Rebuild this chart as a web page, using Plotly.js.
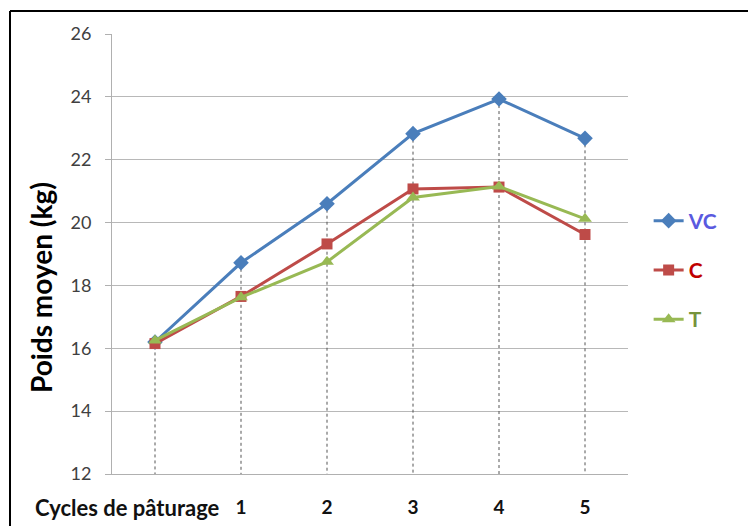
<!DOCTYPE html>
<html>
<head>
<meta charset="utf-8">
<script src="https://cdn.plot.ly/plotly-3.0.1.min.js"></script>
<style>html,body{margin:0;padding:0;background:#fff;}#chart{width:748px;height:526px;}</style>
</head>
<body>
<div id="chart"></div>
<script>
const cycles = [0, 1, 2, 3, 4, 5];
const tickLabels = ["1", "2", "3", "4", "5"];
const tickPositions = [1, 2, 3, 4, 5];
const vc = [16.2, 18.72, 20.6, 22.83, 23.93, 22.68];
const c = [16.15, 17.65, 19.32, 21.07, 21.13, 19.62];
const t = [16.25, 17.62, 18.75, 20.8, 21.15, 20.12];
const yMin = 12, yMax = 26;

// drop lines from highest point to axis
const dropX = [], dropY = [];
cycles.forEach((x, i) => {
  const top = Math.max(vc[i], c[i], t[i]);
  dropX.push(x, x, null);
  dropY.push(top, yMin, null);
});

const font = "Lato, 'Open Sans', sans-serif";
const traces = [
  {x: dropX, y: dropY, mode: 'lines', line: {color: '#555', width: 1, dash: 'dot'},
   showlegend: false, hoverinfo: 'skip'},
  {x: cycles, y: vc, name: '<span style="color:#5a5adf">VC</span>', legendgroup: 'a',
   mode: 'lines+markers', line: {color: '#4a7ebb', width: 3},
   marker: {symbol: 'diamond', size: 12, color: '#4a7ebb'}},
  {x: cycles, y: c, name: '<span style="color:#c00000">C</span>', legendgroup: 'b',
   mode: 'lines+markers', line: {color: '#be4b48', width: 3},
   marker: {symbol: 'square', size: 11, color: '#be4b48'}},
  {x: cycles, y: t, name: '<span style="color:#77933c">T</span>', legendgroup: 'c',
   mode: 'lines+markers', line: {color: '#98b954', width: 3},
   marker: {symbol: 'triangle-up', size: 12, color: '#98b954'}}
];

const layout = {
  width: 748, height: 526,
  margin: {l: 112, r: 120, t: 34, b: 52},
  paper_bgcolor: '#fff', plot_bgcolor: '#fff',
  font: {family: font, color: '#404040'},
  xaxis: {
    range: [-0.5, 5.5], tickvals: tickPositions, ticktext: tickLabels,
    showgrid: false, zeroline: false, showline: true, linecolor: '#b0b0b0', linewidth: 1,
    ticks: '', ticklabelstandoff: 16,
    tickfont: {family: font, size: 19, color: '#111', weight: 'bold'}
  },
  yaxis: {
    range: [yMin, yMax], dtick: 2, tick0: 12,
    showgrid: true, gridcolor: '#b8b8b8', gridwidth: 1, zeroline: false,
    showline: true, linecolor: '#b0b0b0', linewidth: 1,
    ticks: 'outside', ticklen: 6, tickcolor: '#b0b0b0', ticklabelstandoff: 10,
    tickfont: {family: font, size: 18, color: '#404040'}
  },
  showlegend: true,
  legend: {
    x: 1.04, xanchor: 'left', y: (474 - 270) / 440, yanchor: 'middle',
    font: {family: font, size: 21, weight: 'bold'}, tracegroupgap: 19, bgcolor: 'rgba(0,0,0,0)'
  },
  annotations: [
    {text: 'Poids moyen (kg)', textangle: -90, xref: 'paper', yref: 'paper',
     x: (41 - 112) / 516, y: (474 - 288) / 440, xanchor: 'center', yanchor: 'middle',
     showarrow: false, font: {family: font, size: 28, color: '#000', weight: 'bold'}},
    {text: 'Cycles de pâturage', xref: 'paper', yref: 'paper',
     x: (222 - 112) / 516, y: (474 - 508) / 440, xanchor: 'right', yanchor: 'middle',
     showarrow: false, font: {family: font, size: 22, color: '#111', weight: 'bold'}}
  ],
  shapes: [
    {type: 'line', xref: 'paper', yref: 'paper', x0: (10 - 112) / 516, x1: (10 - 112) / 516,
     y0: (474 - 530) / 440, y1: (474 - 11) / 440, line: {color: '#000', width: 2}},
    {type: 'line', xref: 'paper', yref: 'paper', x0: (10 - 112) / 516, x1: (750 - 112) / 516,
     y0: (474 - 11) / 440, y1: (474 - 11) / 440, line: {color: '#000', width: 2}}
  ]
};

Plotly.newPlot('chart', traces, layout, {displayModeBar: false, staticPlot: true});
</script>
</body>
</html>
